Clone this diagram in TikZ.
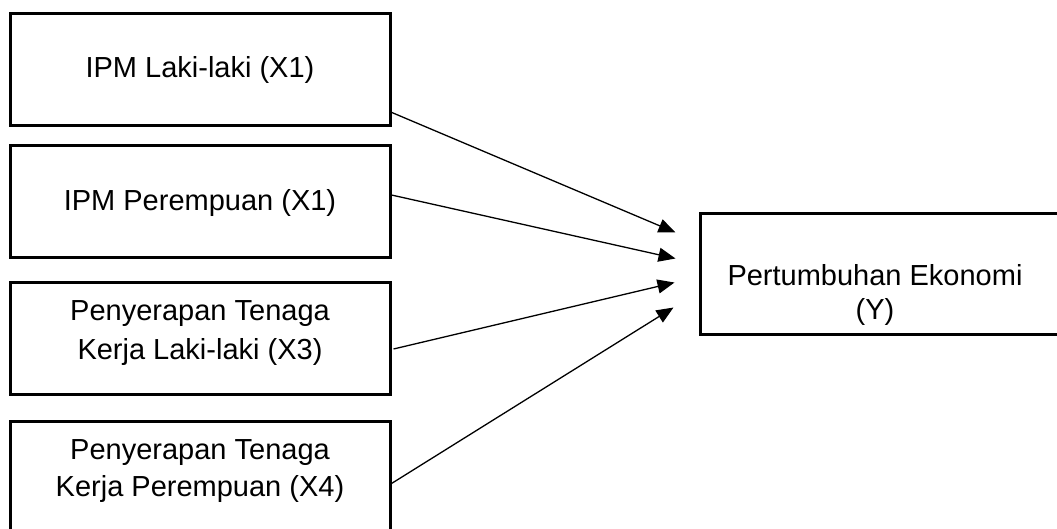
\documentclass[tikz,border=0pt]{standalone}
\usepackage{fontspec}
\setmainfont{Liberation Sans}
\usetikzlibrary{arrows.meta,calc}
\begin{document}
\begin{tikzpicture}[x=1pt,y=-1pt,
  varbox/.style={draw=black,line width=3pt,inner sep=0pt},
  lbl/.style={anchor=base,font=\fontsize{29}{38}\selectfont,inner sep=0pt,align=center},
  link/.style={line width=1.3pt,-{Triangle[length=17pt,width=14pt]}}]
\useasboundingbox (0,0) rectangle (1057,528);
\clip (0,0) rectangle (1057,528);
% left-hand variable boxes
\node[varbox,minimum width=380pt,minimum height=112pt] (b1) at (200,69) {};
\node[varbox,minimum width=380pt,minimum height=112pt] (b2) at (200,201) {};
\node[varbox,minimum width=380pt,minimum height=112pt] (b3) at (200,338.5) {};
\node[varbox,minimum width=380pt,minimum height=116pt] (b4) at (200,479) {};
% dependent variable box
\node[varbox,minimum width=380pt,minimum height=121pt] (by) at (890,273.5) {};
% labels
\node[lbl] (t1) at (200,77.3) {IPM Laki-laki (X1)};
\node[lbl] (t2) at (200,210.7) {IPM Perempuan (X1)};
\node[lbl] (t3a) at (200,320.7) {Penyerapan Tenaga};
\node[lbl] (t3b) at (200,359.7) {Kerja Laki-laki (X3)};
\node[lbl] (t4a) at (200,459) {Penyerapan Tenaga};
\node[lbl] (t4b) at (200,496.7) {Kerja Perempuan (X4)};
\node[lbl] (ty1) at (875,285.7) {Pertumbuhan Ekonomi};
\node[lbl] (ty2) at (875,319) {(Y)};
% arrow start points on the boxes and tip points before the Y box
\coordinate (s1) at ($(b1.south east)+(-2,-15)$);
\coordinate (s2) at ($(b2.east)+(0,-6)$);
\coordinate (s3) at ($(b3.south east)+(2,-47)$);
\coordinate (s4) at ($(b4.north east)+(0,64)$);
\coordinate (e1) at ($(by.west)+(-23,-41)$);
\coordinate (e2) at ($(by.west)+(-23,-15)$);
\coordinate (e3) at ($(by.west)+(-24,9)$);
\coordinate (e4) at ($(by.west)+(-25,34)$);
\draw[link] (s1) -- (e1);
\draw[link] (s2) -- (e2);
\draw[link] (s3) -- (e3);
\draw[link] (s4) -- (e4);
\end{tikzpicture}
\end{document}
